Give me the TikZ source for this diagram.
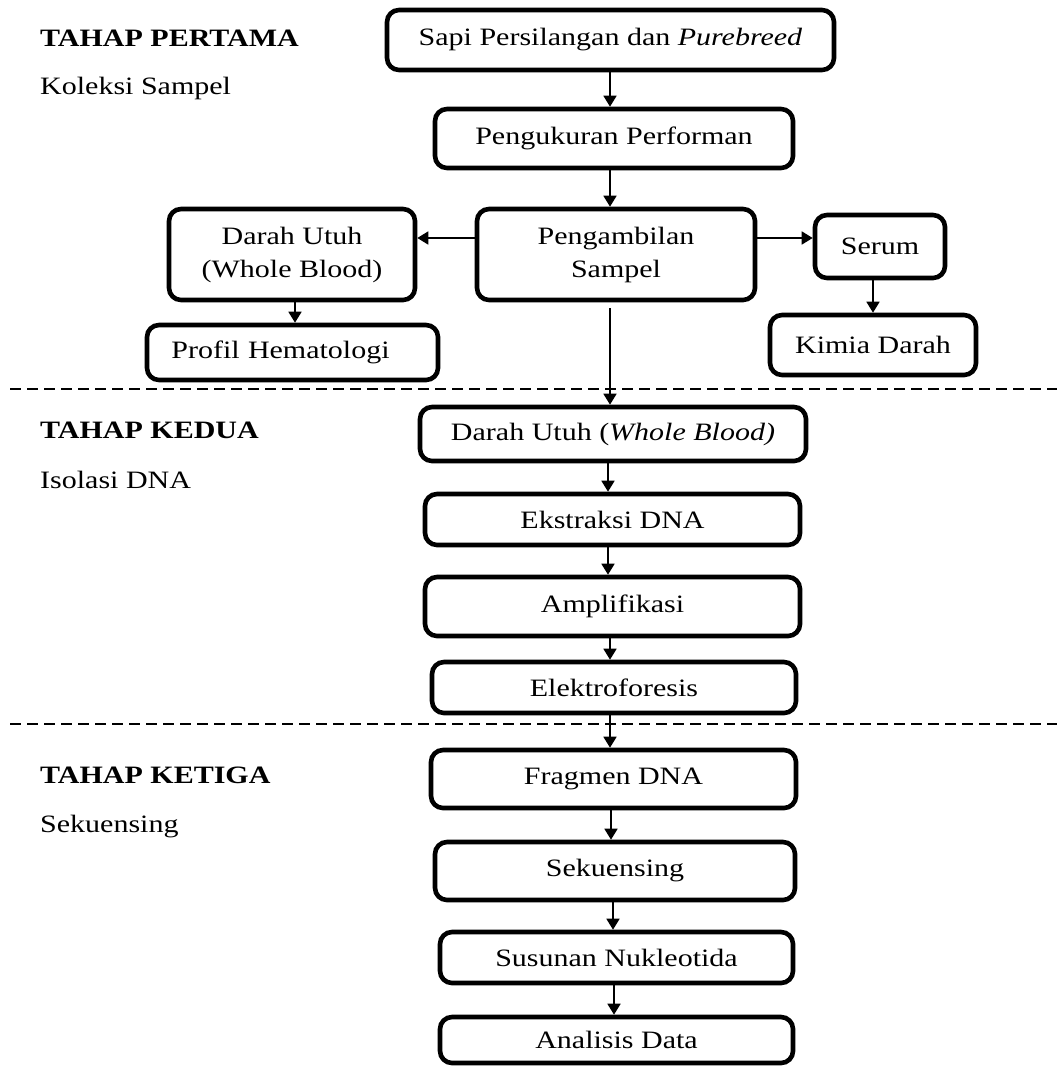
\documentclass[tikz,border=0pt]{standalone}
\usepackage{fontspec}
\setmainfont{Liberation Serif}[FakeStretch=1.2]
\usetikzlibrary{arrows.meta}
\begin{document}
\begin{tikzpicture}[x=1pt,y=-1pt,
  box/.style={draw, line width=4.6pt, rounded corners=12pt, inner sep=0pt, align=center,
    font=\fontsize{25}{33}\selectfont},
  arr/.style={line width=1.7pt, -{Triangle[width=13pt,length=11pt]}},
  lbl/.style={anchor=base west, inner sep=0pt, font=\fontsize{25}{33}\selectfont},
  sep/.style={line width=1.3pt, dash pattern=on 11pt off 6pt}]
\useasboundingbox (0,0) rectangle (1057,1068);

% left labels
\node[lbl] (t1) at (40,46) {\textbf{TAHAP PERTAMA}};
\node[lbl] (s1) at (40,94) {Koleksi Sampel};
\node[lbl] (t2) at (40,438) {\textbf{TAHAP KEDUA}};
\node[lbl] (s2) at (40,488) {Isolasi DNA};
\node[lbl] (t3) at (40,783) {\textbf{TAHAP KETIGA}};
\node[lbl] (s3) at (40,832) {Sekuensing};

% separators
\draw[sep] (10,389) -- (1057,389);
\draw[sep] (10,724) -- (1057,724);

% boxes
\node[box, minimum width=447pt, minimum height=60pt] (sapi) at (610.5,40) {Sapi Persilangan dan \textit{Purebreed}};
\node[box, minimum width=358pt, minimum height=59pt] (ukur) at (614,138.5) {Pengukuran Performan};
\node[box, minimum width=278pt, minimum height=91pt] (ambil) at (616,254.5) {Pengambilan\\Sampel};
\node[box, minimum width=246pt, minimum height=91pt] (darah1) at (292,254.5) {Darah Utuh\\(Whole Blood)};
\node[box, minimum width=291pt, minimum height=55pt, text width=291pt] (profil) at (292.5,352.5) {\hspace*{-24pt}Profil Hematologi};
\node[box, minimum width=130pt, minimum height=63pt] (serum) at (880,246.5) {Serum};
\node[box, minimum width=206pt, minimum height=60pt] (kimia) at (873,345) {Kimia Darah};
\node[box, minimum width=386pt, minimum height=54pt] (darah2) at (613,434) {Darah Utuh (\textit{Whole Blood)}};
\node[box, minimum width=375pt, minimum height=51pt] (ekstr) at (612.5,519.5) {Ekstraksi DNA};
\node[box, minimum width=375pt, minimum height=59pt] (ampl) at (612.5,606.5) {Amplifikasi};
\node[box, minimum width=364pt, minimum height=51pt] (elek) at (614,687.5) {Elektroforesis};
\node[box, minimum width=365pt, minimum height=58pt] (frag) at (613.5,779) {Fragmen DNA};
\node[box, minimum width=360pt, minimum height=58pt] (sekw) at (615,871) {Sekuensing};
\node[box, minimum width=353pt, minimum height=51pt] (susun) at (616.5,957.5) {Susunan Nukleotida};
\node[box, minimum width=353pt, minimum height=46pt] (anal) at (616.5,1040) {Analisis Data};

% connectors
\draw[arr] (sapi.south -| 610,0) -- (ukur.north -| 610,0);
\draw[arr] (ukur.south -| 610,0) -- (ambil.north -| 610,0);
\draw[arr] (ambil.west |- 0,238) -- (darah1.east |- 0,238);
\draw[arr] (ambil.east |- 0,238) -- (serum.west |- 0,238);
\draw[arr] (darah1.south -| 295,0) -- (profil.north -| 295,0);
\draw[arr] (serum.south -| 873,0) -- (kimia.north -| 873,0);
\draw[arr] ([yshift=-6pt]ambil.south -| 610,0) -- (darah2.north -| 610,0);
\draw[arr] (darah2.south -| 608,0) -- (ekstr.north -| 608,0);
\draw[arr] (ekstr.south -| 608,0) -- (ampl.north -| 608,0);
\draw[arr] (ampl.south -| 610,0) -- (elek.north -| 610,0);
\draw[arr] (elek.south -| 610,0) -- (frag.north -| 610,0);
\draw[arr] (frag.south -| 611,0) -- (sekw.north -| 611,0);
\draw[arr] (sekw.south -| 613,0) -- (susun.north -| 613,0);
\draw[arr] (susun.south -| 614,0) -- (anal.north -| 614,0);
\end{tikzpicture}
\end{document}
